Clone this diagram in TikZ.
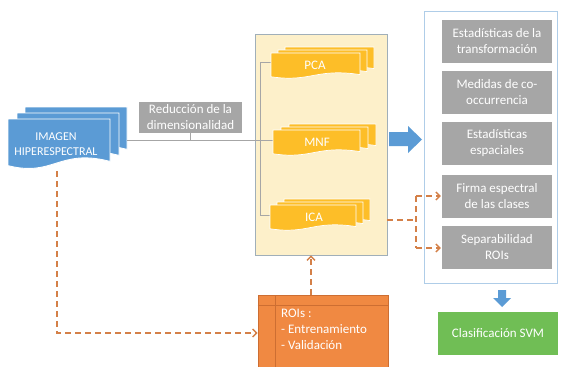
\documentclass[tikz,border=0pt]{standalone}
\usepackage{fontspec}
\setmainfont{Carlito}
\usetikzlibrary{arrows.meta}
\definecolor{docblue}{RGB}{91,155,213}
\definecolor{docyellow}{RGB}{253,190,40}
\definecolor{contfill}{RGB}{253,240,202}
\definecolor{contline}{RGB}{160,175,185}
\definecolor{boxgrey}{RGB}{166,166,166}
\definecolor{dashorange}{RGB}{212,128,72}
\definecolor{roisorange}{RGB}{240,137,66}
\definecolor{roisline}{RGB}{205,110,50}
\definecolor{rightline}{RGB}{175,205,232}
\definecolor{svmgreen}{RGB}{112,190,85}
\newcommand\docshape[5]{%
  \filldraw[#5] (#1,#2) -- (#3,#2) -- (#3,{#2+0.8*(#4-#2)})
  .. controls ({0.5*(#1+#3)},{#2+0.55*(#4-#2)}) and ({#1+0.45*(#3-#1)},{#4+0.1*(#4-#2)})
  .. (#1,{#2+0.88*(#4-#2)}) -- cycle;}
\begin{document}
\begin{tikzpicture}[x=1pt,y=-1pt,
  txt/.style={text=white,font=\fontsize{13}{16}\selectfont,align=center,inner sep=0pt},
  greybox/.style={fill=boxgrey,text=white,font=\fontsize{13}{16}\selectfont,align=center,inner sep=0pt},
  odash/.style={draw=dashorange,line width=1.6pt,dash pattern=on 6pt off 4pt},
  otip/.style={-{Straight Barb[length=4pt,width=8pt,line width=1.4pt]}},
  bdoc/.style={fill=docblue,draw=white,line width=0.9pt},
  ydoc/.style={fill=docyellow,draw=white,line width=0.7pt},
  gline/.style={draw=boxgrey,line width=0.9pt}]
\useasboundingbox (0,0) rectangle (563,367);

% containers
\node[fill=contfill,draw=contline,line width=0.8pt,minimum width=132pt,minimum height=221pt,inner sep=0pt] (cont) at (321,144.5) {};
\node[fill=white,draw=rightline,line width=0.8pt,minimum width=133pt,minimum height=272pt,inner sep=0pt] (rcont) at (490.5,147) {};

% left multi-document
\docshape{25}{107}{127}{160}{bdoc}
\docshape{17}{113}{119}{166}{bdoc}
\docshape{8}{119}{110}{172}{bdoc}
\node[txt,font=\fontsize{12}{15}\selectfont] (img) at (56,144) {IMAGEN\\HIPERESPECTRAL};
\coordinate (imgR) at (127,140);
\coordinate (imgB) at (57,171);

% bracket lines
\coordinate (brT) at (260,62);
\coordinate (brM) at (260,140);
\coordinate (brB) at (260,215);
\draw[gline] (imgR) -- (274,140);
\draw[gline] (272,62) -- (brT) -- (brB) -- (271,215);

% label
\node[greybox,minimum width=103pt,minimum height=31pt] (red) at (190.5,117.5) {Reducción de la\\dimensionalidad};
\draw[gline] (red.south) -- (red.south |- brM);

% yellow multi-documents
\docshape{285}{47}{374}{74}{ydoc}
\docshape{278}{50}{367}{77}{ydoc}
\docshape{271}{53}{360}{80}{ydoc}
\node[txt] (pca) at (315,65) {PCA};
\docshape{289}{124}{376}{151}{ydoc}
\docshape{281}{127}{368}{154}{ydoc}
\docshape{273}{130}{360}{157}{ydoc}
\node[txt] (mnf) at (317,142) {MNF};
\docshape{284}{199}{370}{226}{ydoc}
\docshape{277}{202}{363}{229}{ydoc}
\docshape{270}{205}{356}{232}{ydoc}
\node[txt] (ica) at (314,217) {ICA};

% right boxes
\foreach \n/\y/\t in {b1/41.5/{Estadísticas de la\\transformación},
                     b2/92.5/{Medidas de co-\\occurrencia},
                     b3/143.5/{Estadísticas\\espaciales},
                     b4/196/{Firma espectral\\de las clases},
                     b5/247.5/{Separabilidad\\ROIs}}
  \node[greybox,minimum width=110pt,minimum height=43pt] (\n) at (497,\y) {\t};

% green
\node[fill=svmgreen,text=white,font=\fontsize{13}{16}\selectfont,minimum width=120pt,minimum height=43pt,inner sep=0pt] (svm) at (498,333.5) {Clasificación SVM};

% blue block arrows
\fill[docblue] (389,132) -- (408,132) -- (408,126) -- (422,139.5) -- (408,153) -- (408,146) -- (389,146) -- cycle;
\fill[docblue] (498,290) -- (506,290) -- (506,298) -- (511,298) -- (502,307) -- (493,298) -- (498,298) -- cycle;

% ROIs box
\node[fill=roisorange,draw=roisline,line width=0.6pt,minimum width=130pt,minimum height=74pt,inner sep=0pt] (rois) at (323,332) {};
\draw[roisline,line width=0.6pt] (rois.north west |- 0,305) -- (rois.north east |- 0,305);
\draw[roisline,line width=0.6pt] (275,295) -- (275,367);
\node[txt,align=left,anchor=north west,font=\fontsize{13}{16}\selectfont] (roistxt) at (281,309) {ROIs :\\- Entrenamiento\\- Validación};

% orange dashed connectors
\coordinate (icaR) at (387,220);
\coordinate (split) at (416,220);
\coordinate (splitT) at (416,196);
\coordinate (splitB) at (416,248);
\draw[odash] (icaR) -- (split);
\draw[odash] (splitT) -- (splitB);
\draw[odash,otip] (splitT) -- ([xshift=-1pt]b4.west);
\draw[odash,otip] (splitB) -- ([xshift=-1pt]b5.west |- splitB);
\draw[odash,otip] ([xshift=-12pt]rois.north) -- ([xshift=-10pt]cont.south);
\draw[odash,otip] (imgB) -- (57,333) -- (rois.west |- 0,333);
\end{tikzpicture}
\end{document}
